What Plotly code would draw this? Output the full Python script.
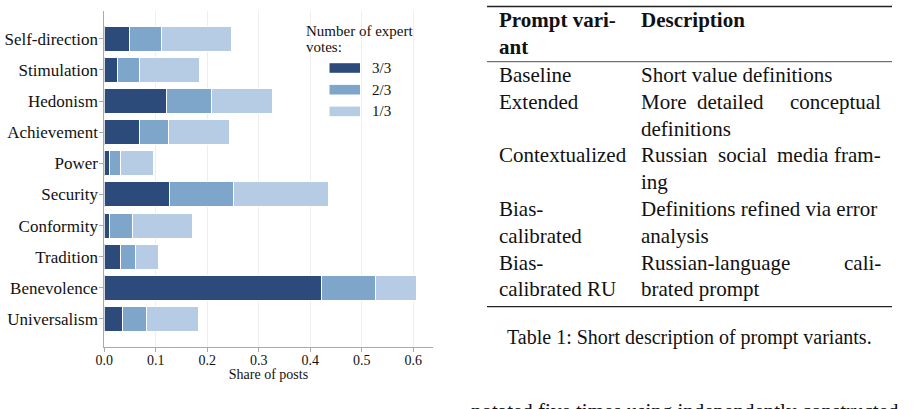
import plotly.graph_objects as go

# ---------------- data ----------------
categories = ["Self-direction", "Stimulation", "Hedonism", "Achievement", "Power",
              "Security", "Conformity", "Tradition", "Benevolence", "Universalism"]
votes_3of3 = [0.049, 0.026, 0.121, 0.069, 0.011, 0.126, 0.010, 0.032, 0.421, 0.036]
votes_2of3 = [0.062, 0.043, 0.088, 0.056, 0.021, 0.125, 0.044, 0.028, 0.105, 0.045]
votes_1of3 = [0.136, 0.115, 0.118, 0.118, 0.063, 0.184, 0.117, 0.045, 0.081, 0.102]
series_names = ["3/3", "2/3", "1/3"]
series_colors = ["#2d4b7a", "#7ea5ca", "#b5cce4"]
x_ticks = [0.0, 0.1, 0.2, 0.3, 0.4, 0.5, 0.6]
x_ticklabels = ["0.0", "0.1", "0.2", "0.3", "0.4", "0.5", "0.6"]
x_title = "Share of posts"
legend_title = ["Number of expert", "votes:"]

table_header = [("Prompt vari-", "Description"), ("ant", "")]
# description lines: list of words; several words => justified line
table_rows = [
    ("Baseline", ["Short value definitions"]),
    ("Extended", ["More", "detailed", "conceptual"]),
    ("", ["definitions"]),
    ("Contextualized", ["Russian", "social", "media", "fram-"]),
    ("", ["ing"]),
    ("Bias-", ["Definitions refined via error"]),
    ("calibrated", ["analysis"]),
    ("Bias-", ["Russian-language", "cali-"]),
    ("calibrated RU", ["brated prompt"]),
]
caption = "Table 1: Short description of prompt variants."
body_text = "notated five times using independently constructed"

W, H = 913, 409
FONT = "Liberation Serif"
PAD_L = 2
PAD_R = 2

def px(x):
    return x / W

def py(y):
    return 1 - y / H

fig = go.Figure()
for name, vals, col in zip(series_names, [votes_3of3, votes_2of3, votes_1of3], series_colors):
    fig.add_trace(go.Bar(
        y=categories, x=vals, name=name, orientation="h",
        marker=dict(color=col, line=dict(color="white", width=1)),
        showlegend=False,
    ))

shapes = []
annotations = []

def ann(x, y, text, size, anchor="left", bold=False):
    t = f"<b>{text}</b>" if bold else text
    if anchor == "left":
        x -= PAD_L
    elif anchor == "right":
        x += PAD_R
    annotations.append(dict(x=px(x), y=py(y), xref="paper", yref="paper", text=t,
                            showarrow=False, xanchor=anchor, yanchor="middle",
                            font=dict(family=FONT, size=size, color="#111")))

# custom legend
ann(306, 31, legend_title[0], 15)
ann(306, 47, legend_title[1], 15)
for i, (name, col) in enumerate(zip(series_names, series_colors)):
    yc = 68 + i * 21.7
    shapes.append(dict(type="rect", xref="paper", yref="paper",
                       x0=px(329.5), x1=px(360), y0=py(yc - 4.8), y1=py(yc + 4.8),
                       fillcolor=col, line=dict(width=0)))
    ann(372, yc, name, 15)

# table rules
for yy, wd in [(6.5, 1.3), (61.7, 0.8), (306.7, 1.3)]:
    shapes.append(dict(type="line", xref="paper", yref="paper",
                       x0=px(487), x1=px(892), y0=py(yy), y1=py(yy),
                       line=dict(color="#222", width=wd)))

TF = 21
C1, C2, CR = 499, 641, 881
MID = {("More", "detailed", "conceptual"): [730],
       ("Russian", "social", "media", "fram-"): [742, 803]}

for k, (a, b) in enumerate(table_header):
    y = 20 + k * 26.8
    if a:
        ann(C1, y, a, TF, bold=True)
    if b:
        ann(C2, y, b, TF, bold=True)

for k, (a, words) in enumerate(table_rows):
    y = 75 + k * 26.8
    if a:
        ann(C1, y, a, TF)
    ann(C2, y, words[0], TF)
    if len(words) >= 2:
        ann(CR, y, words[-1], TF, anchor="right")
    if len(words) >= 3:
        for w, xc in zip(words[1:-1], MID[tuple(words)]):
            ann(xc, y, w, TF, anchor="center")

ann(689.5, 337, caption, 20, anchor="center")
ann(471, 410.5, body_text, TF)

fig.update_layout(
    width=W, height=H,
    margin=dict(l=0, r=0, t=0, b=0, autoexpand=False),
    paper_bgcolor="white", plot_bgcolor="white",
    barmode="stack", bargap=0.2,
    font=dict(family=FONT, color="#111"),
    shapes=shapes, annotations=annotations,
    xaxis=dict(domain=[px(104.3), px(432.7)], range=[0, 0.6377], automargin=False,
               tickvals=x_ticks, ticktext=x_ticklabels,
               tickfont=dict(family=FONT, size=14, color="#111"),
               ticklabelstandoff=-4,
               showgrid=True, gridcolor="#eeeeee", gridwidth=1,
               showline=True, linecolor="#aaaaaa", linewidth=1,
               ticks="outside", ticklen=4, tickcolor="#aaaaaa",
               zeroline=False,
               title=dict(text=x_title, font=dict(family=FONT, size=14, color="#111"), standoff=2)),
    yaxis=dict(domain=[py(346.7), py(11)], range=[9.89, -0.89], automargin=False,
               categoryorder="array", categoryarray=categories,
               tickfont=dict(family=FONT, size=17, color="#111"),
               ticklabelstandoff=-2,
               showgrid=False, showline=True, linecolor="#aaaaaa", linewidth=1,
               ticks="outside", ticklen=4, tickcolor="#aaaaaa", zeroline=False),
)

fig.write_html("out.html")
